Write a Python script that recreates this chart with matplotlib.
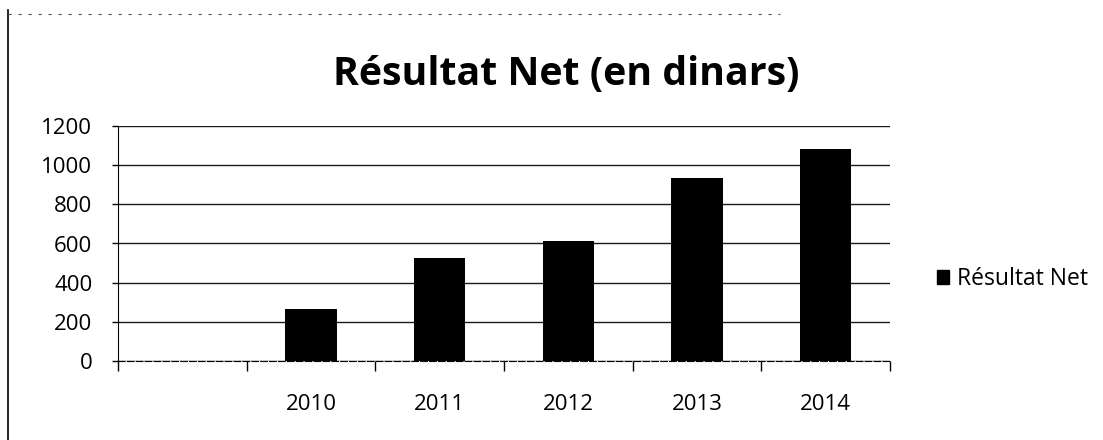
import matplotlib
matplotlib.use("Agg")
import matplotlib.pyplot as plt
from matplotlib.lines import Line2D
from matplotlib.patches import Patch

plt.rcParams['font.family'] = ['Open Sans', 'DejaVu Sans']

categories = ["", "2010", "2011", "2012", "2013", "2014"]
values = [0, 265, 527, 612, 935, 1085]
yticks = [0, 200, 400, 600, 800, 1000, 1200]
title = "Résultat Net (en dinars)"
series_name = "Résultat Net"

fig = plt.figure(figsize=(11.03, 4.40), dpi=100)
ax = fig.add_axes([118/1103, 1 - 361/440, (890-118)/1103, (361-126)/440])

x = list(range(len(categories)))
ax.bar(x, values, width=0.4, color='black', edgecolor='none', zorder=3)

ax.set_xlim(-0.5, len(categories) - 0.5)
ax.set_ylim(0, 1200)
ax.set_yticks(yticks)
ax.set_yticklabels([str(v) for v in yticks], fontsize=16, fontweight='medium')
ax.yaxis.grid(True, color='#1a1a1a', linewidth=1.0, zorder=1)
ax.set_axisbelow(True)

# category labels at centers, tick marks at boundaries
ax.set_xticks([i - 0.5 for i in range(len(categories) + 1)])
ax.set_xticklabels([])
ax.set_xticks(x, minor=True)
ax.set_xticklabels(categories, minor=True, fontsize=16, fontweight='medium')
ax.tick_params(axis='x', which='major', length=7, width=1, color='black', direction='out')
ax.tick_params(axis='x', which='minor', length=0, pad=24)
ax.tick_params(axis='y', length=4.5, width=1, color='black', pad=14)

for s in ['top', 'right']:
    ax.spines[s].set_visible(False)
ax.spines['left'].set_color('black')
ax.spines['bottom'].set_color('black')
ax.spines['bottom'].set_linestyle((0, (6, 2)))

fig.text(566/1103, 1 - 75/440, title, ha='center', va='center',
         fontsize=28.3, fontweight='bold')

fig.legend(handles=[Patch(facecolor='black', edgecolor='black', label=series_name)],
           loc='center left', bbox_to_anchor=(916/1103, 1 - 279/440),
           frameon=False, prop={'size': 16.5, 'weight': 'medium'},
           handlelength=0.55, handleheight=0.55, handletextpad=0.35)

# chart border remnant on the left
fig.add_artist(Line2D([8/1103, 8/1103], [0, 1 - 10/440], color='black', linewidth=1.2))
fig.add_artist(Line2D([8/1103, 780/1103], [1 - 14/440, 1 - 14/440], color='#555555',
                      linewidth=0.8, linestyle=(0, (3, 6))))

fig.savefig("out.png", dpi=100)
